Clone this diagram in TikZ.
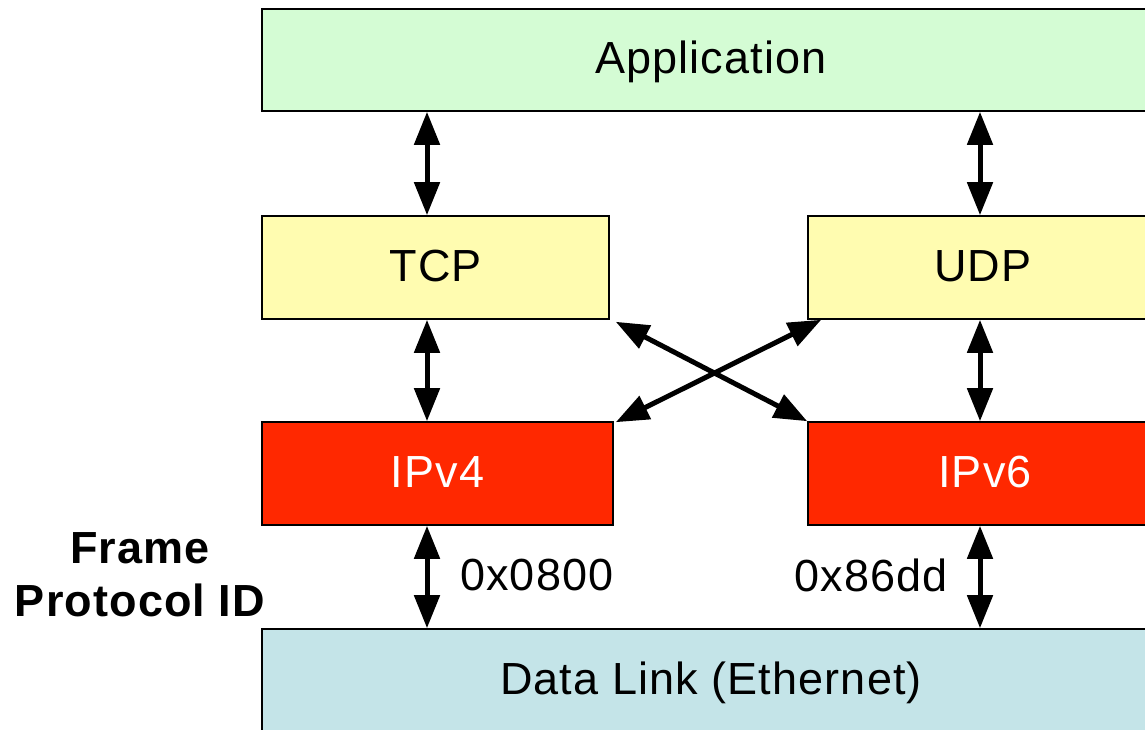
\documentclass[tikz,border=0pt]{standalone}
\usepackage{fontspec}
\setmainfont[LetterSpace=2.5]{Liberation Sans}
\usetikzlibrary{arrows.meta,calc}

\definecolor{appfill}{RGB}{212,252,212}
\definecolor{trfill}{RGB}{255,252,176}
\definecolor{ipfill}{RGB}{255,40,0}
\definecolor{dlfill}{RGB}{196,228,232}

\begin{document}
\begin{tikzpicture}[x=1pt,y=-1pt,
  layer/.style={draw=black, line width=1.6pt, minimum height=103, inner sep=0,
    text height=32pt, text depth=4pt,
    font=\fontsize{45}{53}\selectfont},
  link/.style={line width=5pt,
    {Triangle[width=25pt,length=33pt]}-{Triangle[width=25pt,length=33pt]}},
  idlabel/.style={font=\fontsize{45}{53}\selectfont, inner sep=0}
]
\useasboundingbox (0,0) rectangle (1145,730);
\clip (0,0) rectangle (1145,730);

% protocol layers
\node[layer, fill=appfill, minimum width=898, minimum height=102] (app) at (711,60) {Application};
\node[layer, fill=trfill, minimum width=347] (tcp) at (435.5,267.5) {TCP};
\node[layer, fill=trfill, minimum width=350] (udp) at (983,267.5) {UDP};
\node[layer, fill=ipfill, text=white, minimum width=351] (ipv4) at (437.5,473.5) {IPv4};
\node[layer, fill=ipfill, text=white, minimum width=354] (ipv6) at (985,473.5) {IPv6};
\node[layer, fill=dlfill, minimum width=898] (dl) at (711,680.5) {Data Link (Ethernet)};

% columns of the vertical links
\coordinate (lcol) at (427,0);
\coordinate (rcol) at (980,0);

\draw[link] (app.south -| lcol) -- (tcp.north -| lcol);
\draw[link] (app.south -| rcol) -- (udp.north -| rcol);
\draw[link] (tcp.south -| lcol) -- (ipv4.north -| lcol);
\draw[link] (udp.south -| rcol) -- (ipv6.north -| rcol);
\draw[link] (ipv4.south -| lcol) -- (dl.north -| lcol);
\draw[link] (ipv6.south -| rcol) -- (dl.north -| rcol);

% crossed links
\draw[link] ($(tcp.south east)+(6,2)$) -- (ipv6.north west);
\draw[link] ($(udp.south west)+(14,0)$) -- ($(ipv4.north east)+(2,1)$);

% frame protocol identifiers
\node[idlabel, anchor=west] (v4id) at (460,575) {0x0800};
\node[idlabel, anchor=east] (v6id) at (948,575) {0x86dd};
\node[idlabel, font=\fontsize{45}{53}\selectfont\bfseries, align=center, anchor=north] (fpid) at (140,532) {Frame\\Protocol ID};
\end{tikzpicture}
\end{document}
